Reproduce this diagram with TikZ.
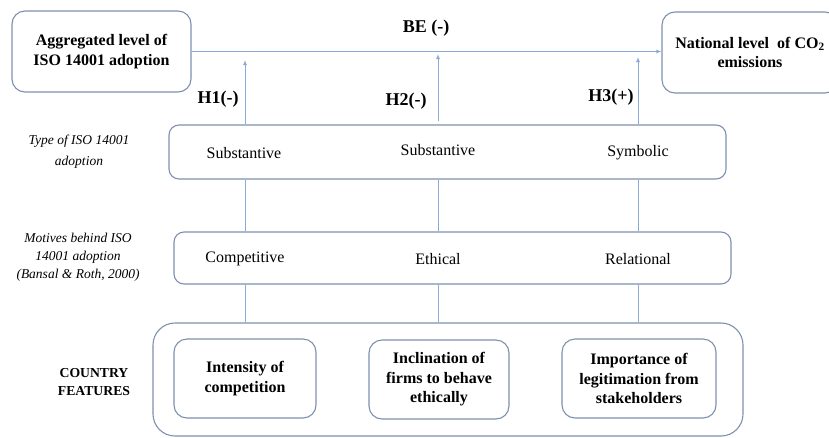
\documentclass[tikz,border=0pt]{standalone}
\usepackage{fontspec}
\setmainfont{Liberation Serif}
\usetikzlibrary{arrows.meta}
\definecolor{boxline}{RGB}{125,145,175}
\definecolor{arrline}{RGB}{140,170,215}
\tikzset{
  box/.style={draw=boxline, line width=1.1pt, rounded corners=13pt, inner sep=0pt, align=center},
  bigtxt/.style={font=\fontsize{16}{19.5}\selectfont\bfseries},
  hyptxt/.style={font=\fontsize{18}{20}\selectfont\bfseries},
  normtxt/.style={font=\fontsize{16}{19}\selectfont},
  sidetxt/.style={font=\fontsize{13.5}{19}\selectfont\itshape, align=center},
  conn/.style={draw=arrline, line width=0.9pt},
  arr/.style={conn, -{Latex[length=5pt,width=4pt]}}
}
\begin{document}
\begin{tikzpicture}[x=1pt,y=-1pt]
\useasboundingbox (0,0) rectangle (829,437);
% top boxes
\node[box, bigtxt, minimum width=179pt, minimum height=81pt] (agg) at (101.5,51.5) {Aggregated level of\\ISO 14001 adoption};
\node[box, bigtxt, minimum width=176pt, minimum height=81pt] (nat) at (750,52.5) {National level\ \ of CO\textsubscript{2}\\emissions};
% middle boxes
\node[box, rounded corners=10pt, minimum width=557pt, minimum height=54pt] (type) at (447.5,152) {};
\node[box, rounded corners=10pt, minimum width=557pt, minimum height=52pt] (mot) at (452.5,258) {};
% country box
\node[box, rounded corners=22pt, minimum width=590pt, minimum height=113pt] (ctry) at (448,379.5) {};
\node[box, bigtxt, minimum width=142pt, minimum height=79pt] (inten) at (245,378.5) {Intensity of\\competition};
\node[box, bigtxt, minimum width=140pt, minimum height=79pt] (incl) at (439,379.5) {Inclination of\\firms to behave\\ethically};
\node[box, bigtxt, minimum width=154pt, minimum height=79pt] (imp) at (639,378.5) {Importance of\\legitimation from\\stakeholders};
% coordinates
\coordinate (h1top) at (245,60);
\coordinate (h2top) at (438,54);
\coordinate (h2bot) at (438,121);
\coordinate (h3top) at (638,57);
\coordinate (xa) at (245,0);
\coordinate (xb) at (438,0);
\coordinate (xc) at (638,0);
% connectors
\draw[arr] (agg.east) -- (agg.east -| nat.west);
\draw[arr] (type.north -| h1top) -- (h1top);
\draw[arr] (h2bot) -- (h2top);
\draw[arr] (type.north -| h3top) -- (h3top);
\draw[conn] (type.south -| xa) -- (mot.north -| xa);
\draw[conn] (type.south -| xb) -- (mot.north -| xb);
\draw[conn] (type.south -| xc) -- (mot.north -| xc);
\draw[conn] (mot.south -| xa) -- (ctry.north -| xa);
\draw[conn] (mot.south -| xb) -- (ctry.north -| xb);
\draw[conn] (mot.south -| xc) -- (ctry.north -| xc);
% labels
\node[hyptxt] (be) at (426,28) {BE (-)};
\node[hyptxt] (h1) at (218,99) {H1(-)};
\node[hyptxt] (h2) at (406,101) {H2(-)};
\node[hyptxt] (h3) at (611,97) {H3(+)};
\node[normtxt] (t1) at (244,153) {Substantive};
\node[normtxt] (t2) at (438,150) {Substantive};
\node[normtxt] (t3) at (638,153) {Symbolic};
\node[normtxt] (m1) at (245,259) {Competitive};
\node[normtxt] (m2) at (438,259) {Ethical};
\node[normtxt] (m3) at (638,259) {Relational};
% side labels
\node[sidetxt, font=\fontsize{13.5}{21}\selectfont\itshape] (s1) at (79,151.5) {Type of ISO 14001\\adoption};
\node[sidetxt, font=\fontsize{13.5}{18}\selectfont\itshape] (s2) at (78,257) {Motives behind ISO\\14001 adoption\\(Bansal \& Roth, 2000)};
\node[font=\fontsize{13.7}{18}\selectfont\bfseries, align=center] (s3) at (94,382) {COUNTRY\\FEATURES};
\end{tikzpicture}
\end{document}
